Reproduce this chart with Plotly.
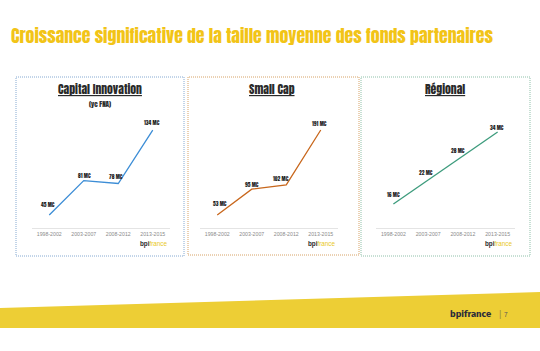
import plotly.graph_objects as go

W, H = 540, 351

categories = ["1998-2002", "2003-2007", "2008-2012", "2013-2015"]
ci_values = [45, 81, 78, 134]
sc_values = [53, 95, 102, 191]
rg_values = [16, 22, 28, 34]
ci_labels = ["45 MC", "81 MC", "78 MC", "134 MC"]
sc_labels = ["53 MC", "95 MC", "102 MC", "191 MC"]
rg_labels = ["16 MC", "22 MC", "28 MC", "34 MC"]
panel_titles = ["Capital Innovation", "Small Cap", "Régional"]
main_title = "Croissance significative de la taille moyenne des fonds partenaires"


def px_x(v):
    return v / W


def px_y(v):
    return 1 - v / H


HEAVY = "Anton, Oswald, Liberation Sans Narrow, sans-serif"
SANS = "Liberation Sans, Arial, sans-serif"

fig = go.Figure()

panels = [
    dict(vals=ci_values, labels=ci_labels, color="#3C8DD6", border="#86AAD2",
         xdom=(32, 170), yr=(31.4, 144.5), box=(16, 77, 184, 256), cx=100,
         shifts=[(-1, 10), (1, 5), (-2, 7), (-1, 7)]),
    dict(vals=sc_values, labels=sc_labels, color="#C8671C", border="#D6A267",
         xdom=(200, 338), yr=(31.9, 207.2), box=(188, 77, 359, 255), cx=272,
         shifts=[(3, 11), (0, 4), (-5, 6), (-1, 6)]),
    dict(vals=rg_values, labels=rg_labels, color="#3C9B7C", border="#8EC0A9",
         xdom=(376, 515), yr=(10, 37), box=(361, 77, 530, 256), cx=445,
         shifts=[(0, 9), (-2, 7), (-5, 5), (-1, 4)]),
]

ydom = (px_y(228), px_y(120))
annotations = []
shapes = []

for i, p in enumerate(panels):
    n = i + 1
    xa = "x" if n == 1 else f"x{n}"
    ya = "y" if n == 1 else f"y{n}"
    fig.add_trace(go.Scatter(
        x=categories, y=p["vals"], mode="lines",
        line=dict(color=p["color"], width=1.3),
        xaxis=xa, yaxis=ya, showlegend=False, hoverinfo="skip"))
    fig.layout[f"xaxis{'' if n == 1 else n}"] = dict(
        domain=[px_x(p["xdom"][0]), px_x(p["xdom"][1])],
        anchor=ya, type="category", range=[-0.5, 3.5],
        showgrid=False, zeroline=False, showline=True,
        linecolor="#E4E4E4", linewidth=1, ticks="",
        tickfont=dict(size=5.2, color="#8A8A8A", family=SANS),
        ticklabelstandoff=1, fixedrange=True)
    fig.layout[f"yaxis{'' if n == 1 else n}"] = dict(
        domain=list(ydom), anchor=xa, range=list(p["yr"]),
        visible=False, fixedrange=True)
    for j, (c, v, lab) in enumerate(zip(categories, p["vals"], p["labels"])):
        dx, dy = p["shifts"][j]
        annotations.append(dict(
            x=c, y=v, xref=xa, yref=ya, text=lab, showarrow=False,
            xshift=dx, yshift=dy, xanchor="center", yanchor="middle",
            font=dict(size=5.5, color="#1E1E1E", family=HEAVY)))
    x0, y0, x1, y1 = p["box"]
    shapes.append(dict(type="rect", xref="paper", yref="paper",
                       x0=px_x(x0), x1=px_x(x1), y0=px_y(y1), y1=px_y(y0),
                       line=dict(color=p["border"], width=1, dash="1px,1px")))
    annotations.append(dict(
        x=px_x(p["cx"]), y=px_y(89), xref="paper", yref="paper",
        xanchor="center", yanchor="middle",
        text=panel_titles[i], showarrow=False,
        font=dict(size=11.7, color="#2A2A2A", family=HEAVY, lineposition="under")))
    lx = p["xdom"][1] - 17
    annotations.append(dict(
        x=px_x(lx), y=px_y(244), xref="paper", yref="paper",
        xanchor="center", yanchor="middle",
        text="<b>bpi</b><span style='color:#E9C81C'>france</span>", showarrow=False,
        font=dict(size=6.3, color="#2A2A2A", family=SANS)))

annotations.append(dict(
    x=px_x(100), y=px_y(104), xref="paper", yref="paper",
    xanchor="center", yanchor="middle",
    text="(yc FNA)", showarrow=False,
    font=dict(size=7, color="#2A2A2A", family=HEAVY)))

annotations.append(dict(
    x=px_x(9), y=px_y(36), xref="paper", yref="paper",
    xanchor="left", yanchor="middle",
    text=main_title, showarrow=False,
    font=dict(size=17.8, color="#F2C417", family=HEAVY)))

# bottom yellow band
shapes.append(dict(type="path", xref="paper", yref="paper",
                   path=f"M 0,{px_y(308)} L 1,{px_y(292)} L 1,{px_y(328)} L 0,{px_y(328)} Z",
                   fillcolor="#EDCE35", line=dict(width=0), layer="below"))

annotations.append(dict(
    x=px_x(493), y=px_y(314), xref="paper", yref="paper",
    xanchor="right", yanchor="middle",
    text="<b>bpifrance</b>", showarrow=False,
    font=dict(size=9.5, color="#2C2C3A", family="Fira Sans, Liberation Sans, sans-serif")))
annotations.append(dict(
    x=px_x(500), y=px_y(314), xref="paper", yref="paper",
    xanchor="center", yanchor="middle",
    text="|", showarrow=False,
    font=dict(size=9, color="#9A8A40", family=SANS)))
annotations.append(dict(
    x=px_x(506), y=px_y(314), xref="paper", yref="paper",
    xanchor="center", yanchor="middle",
    text="7", showarrow=False,
    font=dict(size=6.5, color="#555555", family=SANS)))

fig.update_layout(
    width=W, height=H, margin=dict(l=0, r=0, t=0, b=0),
    paper_bgcolor="white", plot_bgcolor="rgba(0,0,0,0)",
    annotations=annotations, shapes=shapes, showlegend=False)

fig.write_html("out.html", config={"displayModeBar": False})
